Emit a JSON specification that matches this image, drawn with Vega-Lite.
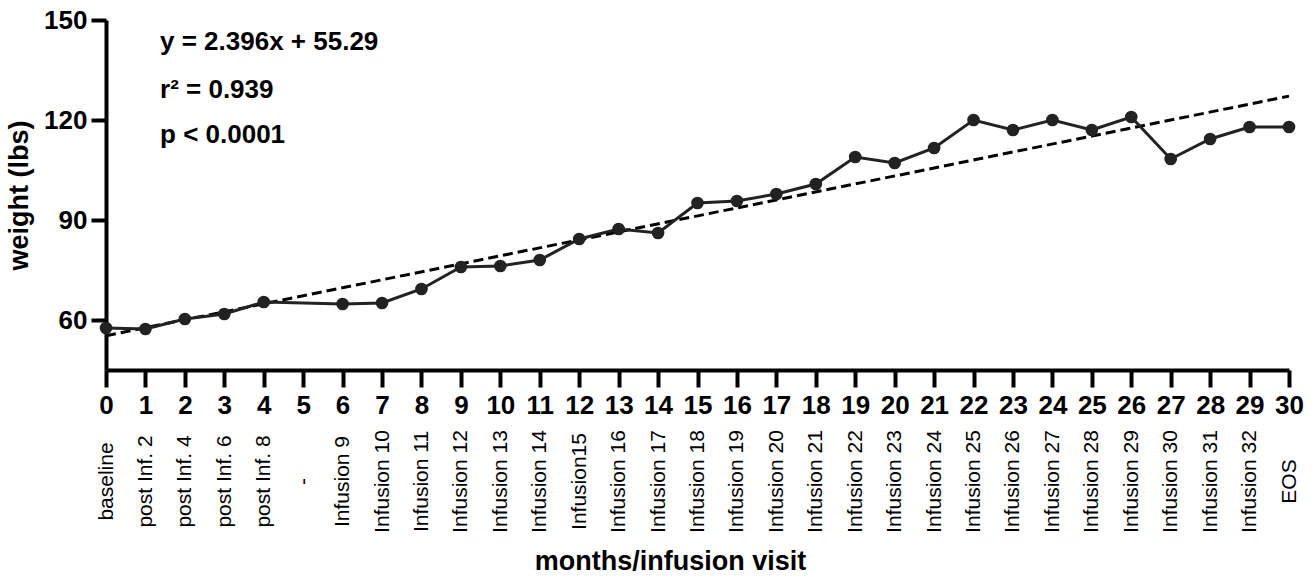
{
  "$schema": "https://vega.github.io/schema/vega-lite/v6.json",
  "autosize": "none",
  "width": 1183,
  "height": 350,
  "padding": {"left": 106, "top": 20, "right": 26, "bottom": 208},
  "background": "white",
  "config": {
    "view": {"stroke": null},
    "font": "Liberation Sans",
    "axis": {
      "grid": false,
      "domainColor": "black",
      "domainWidth": 4,
      "tickColor": "black",
      "tickWidth": 4,
      "labelColor": "black",
      "titleColor": "black",
      "labelFont": "Liberation Sans",
      "titleFont": "Liberation Sans",
      "labelFlush": false,
      "labelOverlap": false,
      "labelBound": false
    }
  },
  "datasets": {
    "main": [
      {"month": 0, "weight": 57.6},
      {"month": 1, "weight": 57.3},
      {"month": 2, "weight": 60.3},
      {"month": 3, "weight": 61.8},
      {"month": 4, "weight": 65.4},
      {"month": 6, "weight": 64.8},
      {"month": 7, "weight": 65.1},
      {"month": 8, "weight": 69.3},
      {"month": 9, "weight": 75.9},
      {"month": 10, "weight": 76.2},
      {"month": 11, "weight": 78.0},
      {"month": 12, "weight": 84.3},
      {"month": 13, "weight": 87.3},
      {"month": 14, "weight": 86.1},
      {"month": 15, "weight": 95.1},
      {"month": 16, "weight": 95.7},
      {"month": 17, "weight": 97.8},
      {"month": 18, "weight": 100.8},
      {"month": 19, "weight": 108.9},
      {"month": 20, "weight": 107.1},
      {"month": 21, "weight": 111.6},
      {"month": 22, "weight": 120.0},
      {"month": 23, "weight": 117.0},
      {"month": 24, "weight": 120.0},
      {"month": 25, "weight": 117.0},
      {"month": 26, "weight": 120.9},
      {"month": 27, "weight": 108.3},
      {"month": 28, "weight": 114.3},
      {"month": 29, "weight": 117.9},
      {"month": 30, "weight": 117.9}
    ],
    "reg": [
      {"month": 0, "weight": 55.29},
      {"month": 30, "weight": 127.17}
    ],
    "notes": [
      {"month": 1.37, "weight": 143.5, "label": "y = 2.396x + 55.29"},
      {"month": 1.37, "weight": 129.0, "label": "r² = 0.939"},
      {"month": 1.37, "weight": 115.5, "label": "p < 0.0001"}
    ]
  },
  "layer": [
    {
      "data": {"name": "reg"},
      "mark": {"type": "line", "color": "black", "strokeWidth": 3, "strokeDash": [10, 5]},
      "encoding": {
        "x": {
          "field": "month", "type": "quantitative",
          "scale": {"domain": [0, 30], "nice": false, "zero": false},
          "axis": {
            "orient": "bottom",
            "values": [0,1,2,3,4,5,6,7,8,9,10,11,12,13,14,15,16,17,18,19,20,21,22,23,24,25,26,27,28,29,30],
            "tickSize": 17,
            "labelFontSize": 26,
            "labelFontWeight": "bold",
            "labelPadding": 5,
            "labelAngle": 0,
            "title": null
          }
        },
        "y": {
          "field": "weight", "type": "quantitative",
          "scale": {"domain": [45, 150], "nice": false, "zero": false},
          "axis": {
            "values": [60, 90, 120, 150],
            "tickSize": 15,
            "labelFontSize": 26,
            "labelFontWeight": "bold",
            "labelPadding": 4,
            "title": "weight (lbs)",
            "titleFontSize": 27,
            "titleFontWeight": "bold",
            "titlePadding": 10
          }
        }
      }
    },
    {
      "data": {"name": "main"},
      "mark": {"type": "line", "color": "#222222", "strokeWidth": 3, "point": {"filled": true, "color": "#222222", "size": 160, "opacity": 1}},
      "encoding": {
        "x": {
          "field": "month", "type": "quantitative",
          "scale": {"domain": [0, 30], "nice": false, "zero": false},
          "axis": {
            "orient": "bottom",
            "values": [0,1,2,3,4,5,6,7,8,9,10,11,12,13,14,15,16,17,18,19,20,21,22,23,24,25,26,27,28,29,30],
            "domain": false,
            "ticks": false,
            "tickSize": 0,
            "labelAngle": -90,
            "labelAlign": "center",
            "labelBaseline": "middle",
            "labelPadding": 111,
            "labelFontSize": 21,
            "labelFontWeight": "normal",
            "labelExpr": "['baseline','post Inf. 2','post Inf. 4','post Inf. 6','post Inf. 8','-','Infusion 9','Infusion 10','Infusion 11','Infusion 12','Infusion 13','Infusion 14','Infusion15','Infusion 16','Infusion 17','Infusion 18','Infusion 19','Infusion 20','Infusion 21','Infusion 22','Infusion 23','Infusion 24','Infusion 25','Infusion 26','Infusion 27','Infusion 28','Infusion 29','Infusion 30','Infusion 31','Infusion 32','EOS'][datum.value]",
            "title": "months/infusion visit",
            "titleFontSize": 27,
            "titleFontWeight": "bold",
            "titleX": 564,
            "titlePadding": 16
          }
        },
        "y": {
          "field": "weight", "type": "quantitative",
          "scale": {"domain": [45, 150], "nice": false, "zero": false},
          "axis": {
            "values": [60, 90, 120, 150],
            "tickSize": 15,
            "labelFontSize": 26,
            "labelFontWeight": "bold",
            "labelPadding": 4,
            "title": "weight (lbs)",
            "titleFontSize": 27,
            "titleFontWeight": "bold",
            "titlePadding": 10
          }
        }
      }
    },
    {
      "data": {"name": "notes"},
      "mark": {"type": "text", "align": "left", "baseline": "middle", "fontSize": 26, "fontWeight": "bold", "color": "black", "font": "Liberation Sans"},
      "encoding": {
        "x": {"field": "month", "type": "quantitative", "scale": {"domain": [0, 30], "nice": false, "zero": false}, "axis": null},
        "y": {
          "field": "weight", "type": "quantitative",
          "scale": {"domain": [45, 150], "nice": false, "zero": false},
          "axis": {
            "values": [60, 90, 120, 150],
            "tickSize": 15,
            "labelFontSize": 26,
            "labelFontWeight": "bold",
            "labelPadding": 4,
            "title": "weight (lbs)",
            "titleFontSize": 27,
            "titleFontWeight": "bold",
            "titlePadding": 10
          }
        },
        "text": {"field": "label"}
      }
    }
  ],
  "resolve": {"axis": {"x": "independent"}}
}
